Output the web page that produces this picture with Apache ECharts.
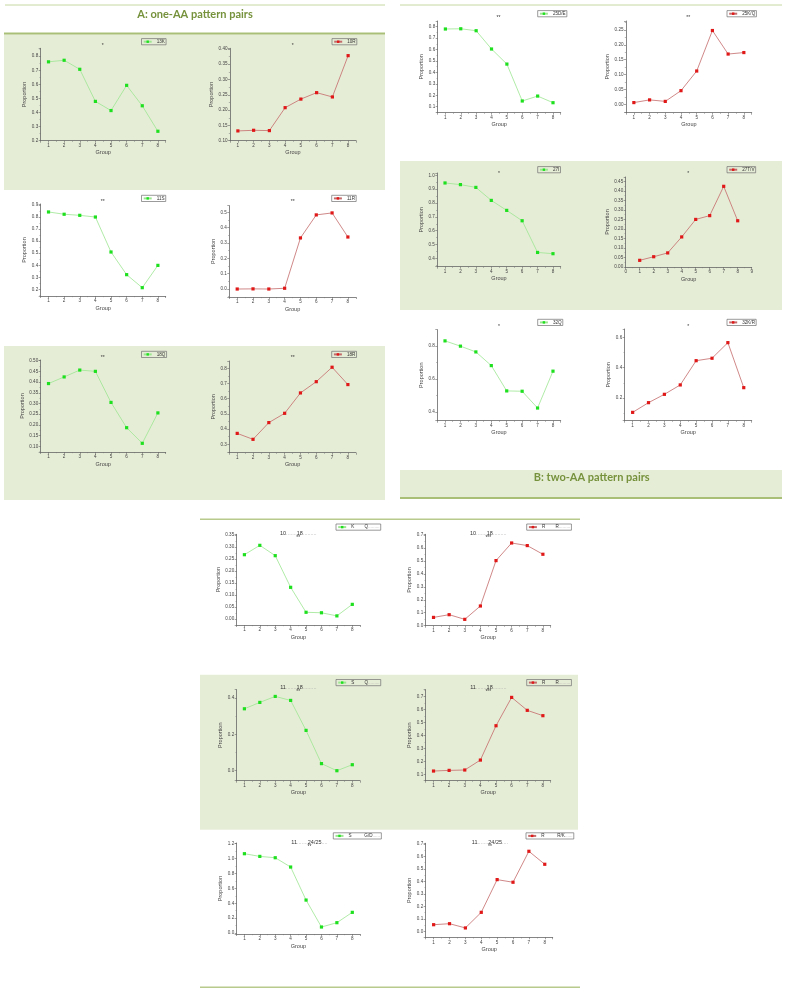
<!DOCTYPE html>
<html><head><meta charset="utf-8">
<script src="https://cdn.jsdelivr.net/npm/echarts@6/dist/echarts.min.js"></script>
<style>html,body{margin:0;padding:0;background:#fff}#c{width:787px;height:990px}</style>
</head><body><div id="c"></div>
<script>
// ---------- data ----------
const groups = [1, 2, 3, 4, 5, 6, 7, 8];
const v13K  = [0.760, 0.771, 0.707, 0.479, 0.414, 0.593, 0.448, 0.267];
const v10R  = [0.132, 0.134, 0.133, 0.208, 0.236, 0.257, 0.243, 0.378];
const v11S  = [0.842, 0.823, 0.814, 0.800, 0.510, 0.322, 0.214, 0.399];
const v11R  = [0.000, 0.001, 0.000, 0.005, 0.333, 0.483, 0.496, 0.339];
const v18Q  = [0.393, 0.424, 0.456, 0.450, 0.305, 0.187, 0.114, 0.256];
const v18R  = [0.372, 0.333, 0.443, 0.504, 0.638, 0.712, 0.807, 0.693];
const v25DE = [0.780, 0.782, 0.765, 0.605, 0.473, 0.150, 0.193, 0.135];
const v25KQ = [0.006, 0.015, 0.010, 0.046, 0.112, 0.248, 0.169, 0.174];
const v27I  = [0.945, 0.933, 0.913, 0.819, 0.747, 0.672, 0.443, 0.434];
const v27TV = [0.035, 0.054, 0.074, 0.158, 0.250, 0.270, 0.424, 0.243];
const v32Q  = [0.832, 0.800, 0.765, 0.682, 0.528, 0.526, 0.424, 0.648];
const v32KR = [0.105, 0.169, 0.224, 0.286, 0.446, 0.462, 0.565, 0.268];
const vC1KQ = [0.268, 0.307, 0.264, 0.132, 0.028, 0.026, 0.013, 0.061];
const vC1RR = [0.064, 0.085, 0.049, 0.152, 0.502, 0.638, 0.618, 0.551];
const vC2SQ = [0.341, 0.376, 0.409, 0.387, 0.222, 0.039, 0.000, 0.033];
const vC2RR = [0.128, 0.133, 0.136, 0.212, 0.475, 0.692, 0.593, 0.552];
const vC3SG = [1.066, 1.030, 1.012, 0.887, 0.443, 0.081, 0.139, 0.278];
const vC3RR = [0.053, 0.061, 0.027, 0.152, 0.414, 0.393, 0.641, 0.537];

// ---------- layout / styling ----------
const F = 'Liberation Sans, Arial, sans-serif';
const STYLE = {
  L: {line: '#9ce690', mark: '#1ee01e'},
  R: {line: '#c46a6a', mark: '#e01818'}
};
const dots = n => '.'.repeat(n);
const charts = [
  {key:'13K',   vals:v13K,  side:'L', grid:[40.7,48.3,125,92.4],   y:[0.2,0.856,0.1,1],    leg:[141.5,38.6], star:['*',102.7,46]},
  {key:'10R',   vals:v10R,  side:'R', grid:[230,48.3,126,92.4],    y:[0.10,0.402,0.05,2],  leg:[332,38.6],   star:['*',292.7,46]},
  {key:'11S',   vals:v11S,  side:'L', grid:[40.7,204,125,92],      y:[0.145,0.908,0.1,1],  leg:[141.5,195.3],star:['**',102.7,202]},
  {key:'11R',   vals:v11R,  side:'R', grid:[229.3,205.7,126.5,91.3],y:[-0.052,0.543,0.1,1],leg:[331.7,195.3],star:['**',292.7,202]},
  {key:'18Q',   vals:v18Q,  side:'L', grid:[40.7,360,125,92],      y:[0.0735,0.503,0.05,2],leg:[141.5,351.3],star:['**',102.7,358]},
  {key:'18R',   vals:v18R,  side:'R', grid:[229.3,361,126.5,91.7], y:[0.245,0.848,0.1,1],  leg:[331.7,351.3],star:['**',292.7,358]},
  {key:'25D/E', vals:v25DE, side:'L', grid:[437.7,21,123,91.7],    y:[0.0475,0.85,0.1,1],  leg:[537.7,10.6], star:['**',498.5,18]},
  {key:'25K/Q', vals:v25KQ, side:'R', grid:[626,21,125.7,91.7],    y:[-0.028,0.28,0.05,2], leg:[727,10.6],   star:['**',688.3,18]},
  {key:'27I',   vals:v27I,  side:'L', grid:[437.3,173,123.4,93.7], y:[0.34,1.017,0.1,1],   leg:[537.7,166.6],star:['*',499,173.3]},
  {key:'27T/V', vals:v27TV, side:'R', grid:[625.7,177,126,90],     y:[0,0.473,0.05,2], x:[0,9], leg:[727,166.6], star:['*',688.3,173.3]},
  {key:'32Q',   vals:v32Q,  side:'L', grid:[437.3,329.7,123.4,91], y:[0.347,0.90,0.2,1],   leg:[537.7,319.3],star:['*',499,326.5]},
  {key:'32K/R', vals:v32KR, side:'R', grid:[624.7,329,127,91.7],   y:[0.05,0.655,0.2,1],   leg:[727,319.3],  star:['*',688.3,326.5]},
  {key:'C1L', vals:vC1KQ, side:'L', grid:[236.7,534.3,123.3,90.7], y:[-0.025,0.353,0.05,2], leg:[336,524],   lab:['K','Q'],   tt:['10','18',298.3,533,'**',537.5]},
  {key:'C1R', vals:vC1RR, side:'R', grid:[425.7,534.3,125,91.4],   y:[0,0.705,0.1,1],       leg:[526.7,524], lab:['R','R'],   tt:['10','18',488.3,533,'***',537.5]},
  {key:'C2L', vals:vC2SQ, side:'L', grid:[236.7,689.7,123.3,91],   y:[-0.055,0.446,0.2,1],  leg:[336,679.5], lab:['S','Q'],   tt:['11','18',298.3,687.3,'**',692]},
  {key:'C2R', vals:vC2RR, side:'R', grid:[425.7,689.7,125,91],     y:[0.054,0.751,0.1,1],   leg:[526.7,679.5],lab:['R','R'],  tt:['11','18',488.3,687.3,'***',692]},
  {key:'C3L', vals:vC3SG, side:'L', grid:[236.7,843,123.3,91],     y:[-0.013,1.21,0.2,1],   leg:[333.3,832.8],lab:['S','G/D'],tt:['11','24/25',309.5,842,'**',846.5]},
  {key:'C3R', vals:vC3RR, side:'R', grid:[425.7,843.3,127,94],     y:[-0.048,0.705,0.1,1],  leg:[526,832.8], lab:['R','R/K'], tt:['11','24/25',490,842,'**',846.5]}
];

function valAxis(gi, min, max, step, dec, name, isY, nameGap) {
  const on = v => Math.abs(v / step - Math.round(v / step)) < 1e-6;
  return {
    type: 'value', gridIndex: gi, min: min, max: max,
    minInterval: step, maxInterval: step, splitNumber: 5,
    name: name, nameLocation: 'middle', nameGap: nameGap,
    nameTextStyle: {fontSize: 5.5, color: '#444', fontFamily: F},
    axisLine: {show: true, onZero: false, lineStyle: {color: '#666', width: 0.8}},
    axisTick: {show: true, length: 2, lineStyle: {color: '#666', width: 0.6}},
    minorTick: {show: true, splitNumber: 2, length: 1.2, lineStyle: {color: '#777', width: 0.5}},
    splitLine: {show: false}, minorSplitLine: {show: false},
    axisLabel: {fontSize: 4.6, color: '#444', margin: 2.5, fontFamily: F,
      showMinLabel: on(min), showMaxLabel: on(max),
      formatter: v => Number(v).toFixed(dec)}
  };
}

const option = {animation: false, grid: [], xAxis: [], yAxis: [], series: [], legend: [], graphic: []};

// backgrounds and rules
const G = [];
const bg = '#e6edd7';
[[4,34.3,381,155.7],[4,346,381,154],[400,161,382,149],[400,470,382,27.5],[200,674.7,378,155]].forEach(r => {
  G.push({type:'rect', z:-10, silent:true, shape:{x:r[0],y:r[1],width:r[2],height:r[3]}, style:{fill:bg}});
});
[[5,5,385,1,'#c6d6a0'],[4,33.5,385,2,'#a9bf78'],[400,5,782,1,'#c6d6a0'],[400,498,782,2,'#a9bf78'],
 [200,519.3,580,1.5,'#b8cb8c'],[200,987.3,580,1.5,'#b8cb8c']].forEach(l => {
  G.push({type:'line', z:-9, silent:true, shape:{x1:l[0],y1:l[1],x2:l[2],y2:l[1]}, style:{stroke:l[4], lineWidth:l[3]}});
});
G.push({type:'text', x:195, y:14, style:{text:'A: one-AA pattern pairs', fontFamily:'Lato, sans-serif', fontWeight:'bold', fontSize:11, fill:'#76923c', align:'center', verticalAlign:'middle'}});
G.push({type:'text', x:591.7, y:477, style:{text:'B: two-AA pattern pairs', fontFamily:'Lato, sans-serif', fontWeight:'bold', fontSize:11, fill:'#76923c', align:'center', verticalAlign:'middle'}});

charts.forEach((c, i) => {
  const xr = c.x || [0.5, 8.5];
  option.grid.push({left:c.grid[0], top:c.grid[1], width:c.grid[2], height:c.grid[3]});
  option.xAxis.push(valAxis(i, xr[0], xr[1], 1, 0, 'Group', false, 9));
  option.yAxis.push(valAxis(i, c.y[0], c.y[1], c.y[2], c.y[3], 'Proportion', true, c.y[3] === 2 ? 12.5 : 11));
  const st = STYLE[c.side];
  option.series.push({
    type:'line', name:c.key, xAxisIndex:i, yAxisIndex:i, silent:true,
    data: groups.map((g, k) => [g, c.vals[k]]),
    symbol:'rect', symbolSize:3.2, lineStyle:{width:0.8, color:st.line}, itemStyle:{color:st.mark}
  });
  let fmt, rich = {};
  if (c.lab) {
    const gap = c.lab[1].length > 1 ? 10 : 8;
    fmt = () => '{t|' + c.lab[0] + '}{s|' + ' '.repeat(gap) + '}{t|' + c.lab[1] + '}{d|' + dots(c.lab[1].length > 1 ? 6 : 9) + '}';
    rich = {t:{fontSize:4.6, color:'#333', fontFamily:F}, s:{fontSize:4.6, fontFamily:F}, d:{fontSize:4.6, color:'#aaa', fontFamily:F}};
  } else {
    fmt = () => c.key;
  }
  option.legend.push({
    data:[c.key], left:c.leg[0], top:c.leg[1], orient:'horizontal', selectedMode:false,
    itemWidth:8, itemHeight:3, itemGap:0, padding:[0.6, 1.2],
    borderColor:'#707070', borderWidth:0.7, borderRadius:0,
    textStyle:{fontSize:4.6, color:'#333', fontFamily:F, rich:rich}, formatter: fmt
  });
  if (c.star) {
    G.push({type:'text', x:c.star[1], y:c.star[2], style:{text:c.star[0], fontSize:5, fontFamily:F, fill:'#333', align:'center', verticalAlign:'middle'}});
  }
  if (c.tt) {
    const t = c.tt;
    const d2 = t[1].length > 2 ? 4 : 9;
    G.push({type:'text', x:t[2], y:t[3], style:{
      text:'{n|' + t[0] + '}{d|' + dots(7) + '}{n|' + t[1] + '}{d|' + dots(d2) + '}',
      rich:{n:{fontSize:5.5, fontFamily:F, fill:'#333'}, d:{fontSize:5.5, fontFamily:F, fill:'#999'}},
      align:'center', verticalAlign:'middle'}});
    G.push({type:'text', x:t[2], y:t[5], style:{text:t[4], fontSize:5, fontFamily:F, fill:'#333', align:'center', verticalAlign:'middle'}});
  }
});
option.graphic = G;

const chart = echarts.init(document.getElementById('c'), null, {renderer:'canvas'});
chart.setOption(option);
</script>
</body></html>
